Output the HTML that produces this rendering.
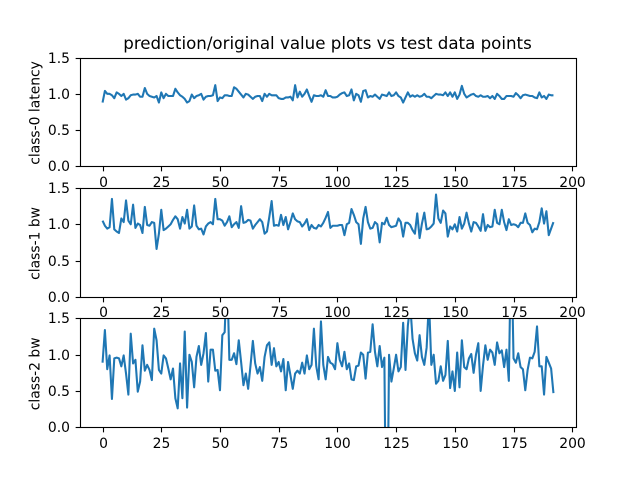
<!DOCTYPE html>
<html>
<head>
<meta charset="utf-8">
<title>prediction/original value plots vs test data points</title>
<style>
html,body{margin:0;padding:0;background:#fff;width:640px;height:480px;overflow:hidden;}
svg{display:block;}
text{font-family:"DejaVu Sans","Liberation Sans",sans-serif;fill:#000;}
</style>
</head>
<body>
<svg id="chart" xmlns="http://www.w3.org/2000/svg" width="640" height="480" viewBox="0 0 640 480"></svg>
<script>
const xTicks = [0, 25, 50, 75, 100, 125, 150, 175, 200];
const yTicks = ["0.0", "0.5", "1.0", "1.5"];
const chartTitle = "prediction/original value plots vs test data points";
const yLabels = ["class-0 latency", "class-1 bw", "class-2 bw"];

const latencyValues = [
.88,1.04,1.0,1.0,.98,.94,1.02,1.0,.97,1.0,.92,.94,.98,.99,.99,1.0,.96,.96,1.08,1.0,
.97,.96,.95,.97,.88,1.02,.94,1.0,.97,.97,.97,1.07,1.02,.98,.96,.93,.88,.9,.99,.94,
.97,.98,1.0,.92,.96,.97,.97,.98,1.12,.9,.95,.94,.98,.98,.97,.97,1.09,1.07,1.03,.99,
.95,1.0,.99,.96,.93,.96,.97,.97,.9,1.0,.96,1.0,.98,.98,.98,.94,.93,.93,.95,.95,
.96,.91,1.12,.95,1.03,.96,1.0,1.06,.97,.89,.98,.97,.97,.98,.96,1.05,.97,.97,.95,.95,
.96,.99,1.01,1.02,.97,.98,1.06,.91,1.0,.98,.89,1.04,1.05,.95,.97,.96,.99,.96,.93,.99,
.98,.97,1.02,.97,.98,1.02,.97,.95,.88,.95,1.02,.96,.98,.96,.98,.96,.97,1.0,.96,.96,
.94,.97,1.0,.99,.99,.98,1.02,.97,1.02,.96,1.02,.93,.99,1.11,1.0,.95,.97,.99,1.0,.97,
.96,.98,.96,.96,.97,.94,.97,.93,1.0,.97,.93,.93,.97,.97,.97,.96,1.01,.98,.94,.98,
.99,.98,.97,.97,.95,.94,1.02,.95,.97,.93,.99,.98,.98
];
const class1BwValues = [
1.05,.98,.94,.96,1.35,.93,.9,.88,1.08,1.03,1.33,1.05,1.0,1.27,.95,1.01,.99,.88,1.24,.99,
.98,1.03,1.02,.66,.87,1.2,.92,.94,.97,1.0,1.06,1.11,1.07,.94,1.1,1.01,1.2,.94,.97,1.26,
.98,.93,.94,.86,.97,1.01,1.03,1.0,1.35,1.07,1.07,1.05,.98,1.03,1.11,.96,1.0,1.03,.95,1.25,
1.02,1.03,1.06,1.05,.94,.99,1.03,1.07,1.03,.87,.9,1.1,1.32,.98,.99,.98,1.13,.99,1.1,.93,
1.03,1.15,1.07,1.04,1.03,.97,1.01,1.07,.92,.99,.95,.94,.99,.97,1.02,1.09,1.17,.95,.98,.98,
.98,.99,.99,.85,1.0,1.02,1.21,1.13,1.03,1.0,.73,1.08,1.24,1.03,.94,.95,1.03,1.0,.75,1.02,
1.0,1.09,.99,.96,.97,.98,1.08,1.03,.83,1.02,1.02,.99,.92,.87,1.15,.81,1.01,1.16,.93,.94,
.97,1.01,1.41,1.08,1.02,1.19,1.15,.83,.97,.93,1.0,.9,1.1,.94,1.01,1.16,1.01,.9,1.03,1.02,
.97,.91,1.14,.91,.99,.96,.97,1.2,1.02,1.0,1.2,1.03,.92,1.07,.99,1.0,.99,.96,1.02,1.02,
1.15,1.02,.99,.89,.94,.93,1.03,1.22,1.01,1.18,.85,.94,1.03
];
const class2BwValues = [
.89,1.34,.8,.99,.39,.95,.96,.95,.84,.99,.74,.45,1.29,.88,.93,.49,.63,1.13,.78,.86,
.79,.65,1.36,1.2,.79,.74,.99,.95,.81,.66,.81,.4,.26,.88,.4,1.32,.27,1.0,.9,.55,
.97,1.12,.86,1.02,1.3,.63,1.07,1.07,.78,.79,.51,1.27,1.31,2.2,.93,.93,1.02,.87,1.2,.9,
.58,.74,.53,.85,1.19,.88,.74,.83,.64,.97,1.13,1.17,.86,1.09,.84,.9,.77,.94,.51,.9,
.72,.53,.74,.78,.74,.89,.74,.99,.8,.86,1.36,.84,.66,1.46,.86,.66,.97,.89,.87,.8,
1.16,.93,.84,1.04,.8,.88,.66,.65,.84,.85,1.03,1.0,.67,1.03,1.04,1.42,1.04,.84,1.12,.83,
.96,-2.4,1.0,.63,.81,1.0,.77,.83,1.44,.79,1.4,1.7,1.22,1.02,.92,1.27,.97,.86,1.1,1.75,
.86,1.0,.6,.64,.84,.64,.72,1.19,.54,.77,.5,1.03,.55,1.2,.83,.8,.95,1.01,.75,1.0,
1.16,.5,.85,1.13,.93,1.07,1.03,.86,1.17,1.02,1.06,.83,1.07,.64,2.65,.95,.89,1.02,.83,.8,
.51,.79,.96,.95,1.04,1.39,.84,.84,.45,.97,.89,.81,.47
];

const seriesList = [latencyValues, class1BwValues, class2BwValues];
const seriesNames = ["class-0-latency", "class-1-bw", "class-2-bw"];

const NS = "http://www.w3.org/2000/svg";
const svg = document.getElementById("chart");
const AX_LEFT = 80, AX_RIGHT = 576;
const AX_TOPS = [57.6, 188.047, 318.494];
const AX_H = 108.706;
const X_MIN = -9.6, X_MAX = 201.6, Y_MIN = 0, Y_MAX = 1.5;

function xScale(v) {
  return AX_LEFT + (v - X_MIN) / (X_MAX - X_MIN) * (AX_RIGHT - AX_LEFT);
}
function yScale(v, top) {
  return top + AX_H - (v - Y_MIN) / (Y_MAX - Y_MIN) * AX_H;
}
function snap(v) {
  return Math.floor(v + 0.5) + 0.5;
}
function make(tag, attrs, parent) {
  const el = document.createElementNS(NS, tag);
  for (const k in attrs) el.setAttribute(k, attrs[k]);
  parent.appendChild(el);
  return el;
}
// Trim a polyline's segments to a y band so off-scale values stay inside the figure.
function linePath(values, top) {
  const yLo = top - 4, yHi = top + AX_H + 4;
  let d = "", pen = false;
  for (let i = 0; i < values.length - 1; i++) {
    let x0 = xScale(i), y0 = yScale(values[i], top);
    let x1 = xScale(i + 1), y1 = yScale(values[i + 1], top);
    if ((y0 < yLo && y1 < yLo) || (y0 > yHi && y1 > yHi)) { pen = false; continue; }
    const ax = x0, ay = y0, bx = x1, by = y1;
    const at = function (y) { return ax + (y - ay) / (by - ay) * (bx - ax); };
    if (y0 < yLo) { x0 = at(yLo); y0 = yLo; pen = false; }
    else if (y0 > yHi) { x0 = at(yHi); y0 = yHi; pen = false; }
    if (y1 < yLo) { x1 = at(yLo); y1 = yLo; }
    else if (y1 > yHi) { x1 = at(yHi); y1 = yHi; }
    if (!pen) d += "M" + x0.toFixed(2) + " " + y0.toFixed(2);
    d += "L" + x1.toFixed(2) + " " + y1.toFixed(2);
    pen = by >= yLo && by <= yHi;
  }
  return d;
}

const titleEl = make("text", {x: 327.5, y: 49, "text-anchor": "middle", "font-size": 16.67}, svg);


titleEl.textContent = chartTitle;

const defs = make("defs", {}, svg);

seriesList.forEach(function (values, idx) {
  const top = AX_TOPS[idx];
  const bottom = top + AX_H;
  const frameTop = snap(top), frameBottom = snap(bottom);
  const frameLeft = snap(AX_LEFT), frameRight = snap(AX_RIGHT);
  const group = make("g", {}, svg);
  
  

  const clipId = "clip" + idx;
  const clip = make("clipPath", {id: clipId}, defs);
  make("rect", {x: AX_LEFT, y: top, width: AX_RIGHT - AX_LEFT, height: AX_H}, clip);

  const line = make("path", {
    d: linePath(values, top),
    fill: "none", stroke: "#1f77b4", "stroke-width": 2.08, "stroke-linejoin": "round", "stroke-linecap": "butt",
    "clip-path": "url(#" + clipId + ")"
  }, group);
  
  

  const frame = make("rect", {
    x: frameLeft, y: frameTop, width: frameRight - frameLeft, height: frameBottom - frameTop,
    fill: "none", stroke: "#000", "stroke-width": 1.11
  }, group);
  
  

  xTicks.forEach(function (t) {
    const px = snap(xScale(t));
    const tick = make("line", {x1: px, x2: px, y1: frameBottom, y2: frameBottom + 4.86, stroke: "#000", "stroke-width": 1.11}, group);
    
    
    const label = make("text", {x: px, y: Math.round(bottom + 20.4), "text-anchor": "middle", "font-size": 13.89}, group);
    
    
    label.textContent = String(t);
  });

  yTicks.forEach(function (t) {
    const py = snap(yScale(parseFloat(t), top));
    const tick = make("line", {x1: frameLeft - 4.86, x2: frameLeft, y1: py, y2: py, stroke: "#000", "stroke-width": 1.11}, group);
    
    
    const label = make("text", {x: 70, y: py + 4.5, "text-anchor": "end", "font-size": 13.89}, group);
    
    
    label.textContent = t;
  });

  const yMid = top + AX_H / 2 + 1;
  const yTitle = make("text", {x: 0, y: 0, "text-anchor": "middle", "font-size": 13.89, transform: "translate(39.5 " + yMid + ") rotate(-90)"}, group);
  
  
  yTitle.textContent = yLabels[idx];
});
</script>
</body>
</html>
